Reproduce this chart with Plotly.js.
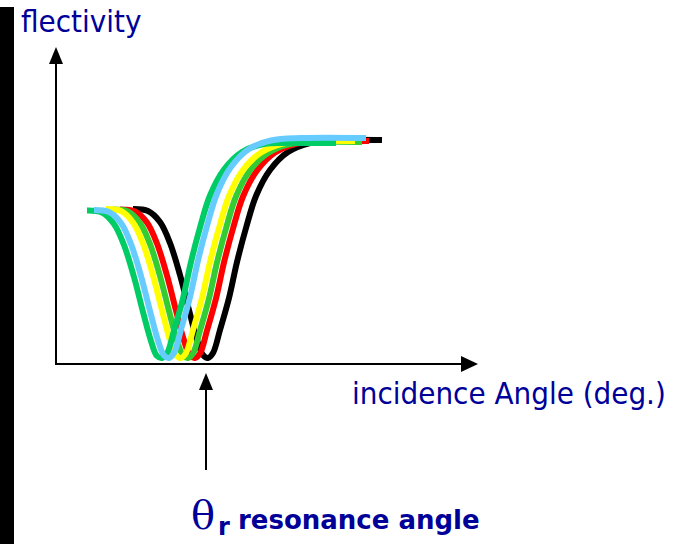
<!DOCTYPE html>
<html>
<head>
<meta charset="utf-8">
<script src="https://cdn.plot.ly/plotly-3.0.1.min.js"></script>
<style>
  html, body { margin: 0; padding: 0; background: #fff; }
  #plotArea { width: 679px; height: 544px; }
</style>
</head>
<body>
<div id="plotArea"></div>
<script>
// incidence angle (deg) and reflectivity, one pair per curve
var angleBlack  = [47.6, 49.1, 50.3, 51.3, 52.3, 53.2, 54.0, 54.6, 55.1, 55.6, 56.3, 57.2, 58.0, 58.9, 59.9, 61.3, 63.1, 65.3, 68.3, 72.5];
var reflBlack   = [0.612, 0.604, 0.560, 0.476, 0.348, 0.208, 0.088, 0.028, 0.016, 0.036, 0.128, 0.256, 0.400, 0.536, 0.664, 0.768, 0.840, 0.876, 0.888, 0.888];

var angleRed    = [46.3, 47.8, 49.0, 50.0, 51.0, 51.9, 52.7, 53.3, 53.8, 54.3, 55.0, 55.9, 56.7, 57.6, 58.6, 60.0, 61.8, 64.0, 67.0, 71.2];
var reflRed     = [0.610, 0.602, 0.558, 0.474, 0.346, 0.206, 0.086, 0.026, 0.016, 0.034, 0.126, 0.254, 0.398, 0.534, 0.662, 0.766, 0.838, 0.874, 0.884, 0.884];

var angleLime   = [45.6, 47.1, 48.3, 49.3, 50.3, 51.2, 52.0, 52.6, 53.1, 53.6, 54.3, 55.2, 56.0, 56.9, 57.9, 59.3, 61.1, 63.3, 66.3, 70.5];
var reflLime    = [0.610, 0.602, 0.556, 0.472, 0.344, 0.204, 0.086, 0.026, 0.016, 0.034, 0.126, 0.254, 0.398, 0.534, 0.662, 0.766, 0.836, 0.872, 0.880, 0.880];

var angleYellow = [44.9, 46.4, 47.6, 48.6, 49.6, 50.5, 51.3, 51.9, 52.4, 52.9, 53.6, 54.5, 55.3, 56.2, 57.2, 58.6, 60.4, 62.6, 65.6, 69.8];
var reflYellow  = [0.612, 0.604, 0.558, 0.474, 0.346, 0.206, 0.088, 0.028, 0.016, 0.036, 0.128, 0.256, 0.400, 0.536, 0.664, 0.768, 0.838, 0.874, 0.884, 0.884];

var angleGreen  = [43.0, 44.5, 45.7, 46.7, 47.7, 48.6, 49.4, 50.0, 50.5, 51.0, 51.7, 52.6, 53.4, 54.3, 55.3, 56.7, 58.5, 60.7, 63.7, 67.9];
var reflGreen   = [0.606, 0.598, 0.552, 0.468, 0.340, 0.200, 0.084, 0.024, 0.016, 0.034, 0.126, 0.254, 0.400, 0.538, 0.666, 0.770, 0.840, 0.872, 0.876, 0.876];

var angleBlue   = [43.7, 45.2, 46.4, 47.4, 48.4, 49.3, 50.1, 50.7, 51.2, 51.7, 52.4, 53.3, 54.1, 55.0, 56.0, 57.4, 59.2, 61.4, 64.4, 70.9];
var reflBlue    = [0.608, 0.600, 0.556, 0.472, 0.344, 0.204, 0.086, 0.026, 0.016, 0.036, 0.130, 0.260, 0.406, 0.544, 0.674, 0.780, 0.852, 0.886, 0.896, 0.896];

// drawing order: black at the bottom, light blue on top
var curves = [
  {x: angleBlack,  y: reflBlack,  color: "#000000"},
  {x: angleRed,    y: reflRed,    color: "#ff0000"},
  {x: angleLime,   y: reflLime,   color: "#33cc33"},
  {x: angleYellow, y: reflYellow, color: "#ffff00"},
  {x: angleGreen,  y: reflGreen,  color: "#00cc66"},
  {x: angleBlue,   y: reflBlue,   color: "#66ccff"}
];

var traces = curves.map(function(c) {
  return {
    x: c.x,
    y: c.y,
    type: "scatter",
    mode: "lines",
    line: {color: c.color, width: 6, shape: "spline", smoothing: 1},
    hoverinfo: "skip"
  };
});

// pixel -> paper helpers for the hand drawn axes and arrows
var W = 679, H = 544;
function px(v) { return v / W; }
function py(v) { return 1 - v / H; }
function tri(pts) {
  return "M" + pts.map(function(p) { return px(p[0]) + "," + py(p[1]); }).join(" L") + " Z";
}

var ink = {color: "#000000", width: 2};
var shapes = [
  {type: "rect", xref: "paper", yref: "paper", x0: 0, x1: px(14), y0: 0, y1: py(7), fillcolor: "#000000", line: {width: 0}},
  {type: "line", xref: "paper", yref: "paper", x0: px(56), x1: px(56), y0: py(365), y1: py(60), line: ink},
  {type: "path", xref: "paper", yref: "paper", path: tri([[56, 47], [49, 64], [63, 64]]), fillcolor: "#000000", line: {width: 0}},
  {type: "line", xref: "paper", yref: "paper", x0: px(55), x1: px(464), y0: py(364), y1: py(364), line: ink},
  {type: "path", xref: "paper", yref: "paper", path: tri([[478, 364], [461, 356], [461, 372]]), fillcolor: "#000000", line: {width: 0}},
  {type: "line", xref: "paper", yref: "paper", x0: px(206), x1: px(206), y0: py(388), y1: py(470), line: ink},
  {type: "path", xref: "paper", yref: "paper", path: tri([[206, 373], [199, 390], [213, 390]]), fillcolor: "#000000", line: {width: 0}}
];

var navy = "#000099";
var labelFont = {family: "DejaVu Sans Condensed, DejaVu Sans, sans-serif", size: 31, color: navy};
var annotations = [
  {text: "flectivity", xref: "paper", yref: "paper", x: px(19), y: py(21), xanchor: "left", yanchor: "middle", showarrow: false, font: labelFont},
  {text: "incidence Angle (deg.)", xref: "paper", yref: "paper", x: px(350), y: py(393), xanchor: "left", yanchor: "middle", showarrow: false, font: labelFont},
  {text: "\u03b8", xref: "paper", yref: "paper", x: px(189), y: py(515), xanchor: "left", yanchor: "middle", showarrow: false,
   font: {family: "DejaVu Serif, serif", size: 40, color: navy}},
  {text: "<b>r</b>", xref: "paper", yref: "paper", x: px(216), y: py(527), xanchor: "left", yanchor: "middle", showarrow: false,
   font: {family: "DejaVu Sans, sans-serif", size: 24, color: navy}},
  {text: "<b>resonance angle</b>", xref: "paper", yref: "paper", x: px(236), y: py(520), xanchor: "left", yanchor: "middle", showarrow: false,
   font: {family: "DejaVu Sans, sans-serif", size: 26, color: navy}}
];

var layout = {
  width: W,
  height: H,
  margin: {l: 0, r: 0, t: 0, b: 0},
  paper_bgcolor: "#ffffff",
  plot_bgcolor: "#ffffff",
  showlegend: false,
  xaxis: {range: [34.3, 102.2], visible: false, fixedrange: true},
  yaxis: {range: [-0.728, 1.448], visible: false, fixedrange: true},
  shapes: shapes,
  annotations: annotations
};

Plotly.newPlot("plotArea", traces, layout, {displayModeBar: false, staticPlot: true});
</script>
</body>
</html>
